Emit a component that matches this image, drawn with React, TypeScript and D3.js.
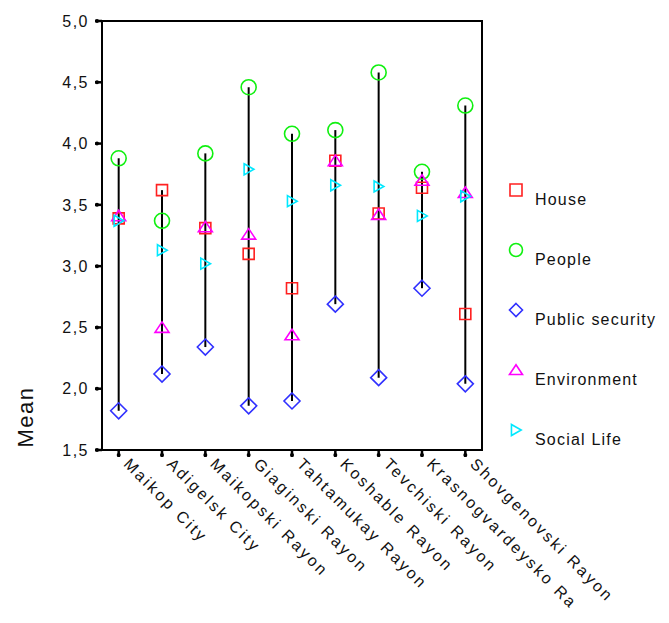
import React from "react";
import * as d3 from "d3";

const categories = [
  "Maikop City",
  "Adigelsk City",
  "Maikopski Rayon",
  "Giaginski Rayon",
  "Tahtamukay Rayon",
  "Koshable Rayon",
  "Tevchiski Rayon",
  "Krasnogvardeysko Ra",
  "Shovgenovski Rayon",
];

const house = [3.39, 3.62, 3.31, 3.1, 2.82, 3.86, 3.43, 3.64, 2.61];
const people = [3.88, 3.37, 3.92, 4.46, 4.08, 4.11, 4.58, 3.77, 4.31];
const publicSecurity = [1.82, 2.12, 2.34, 1.86, 1.9, 2.69, 2.09, 2.82, 2.04];
const environment = [3.41, 2.5, 3.32, 3.26, 2.44, 3.86, 3.42, 3.7, 3.6];
const socialLife = [3.37, 3.13, 3.02, 3.79, 3.53, 3.66, 3.65, 3.41, 3.57];

const yTicks = [1.5, 2.0, 2.5, 3.0, 3.5, 4.0, 4.5, 5.0];

const seriesNames = ["House", "People", "Public security", "Environment", "Social Life"];
const seriesColors = ["#ff2020", "#10f010", "#3030ff", "#ff00ff", "#00e8ff"];
const seriesShapes = ["square", "circle", "diamond", "triUp", "triRight"];
const seriesValues = [house, people, publicSecurity, environment, socialLife];

function markerPath(shape: string, s: number): string {
  const h = s / 2;
  switch (shape) {
    case "square":
      return `M${-h},${-h}H${h}V${h}H${-h}Z`;
    case "circle":
      return `M${h},0A${h},${h} 0 1,1 ${-h},0A${h},${h} 0 1,1 ${h},0Z`;
    case "diamond":
      return `M0,${-h}L${h},0L0,${h}L${-h},0Z`;
    case "triUp":
      return `M0,${-h * 0.8}L${h},${h * 0.7}L${-h},${h * 0.7}Z`;
    case "triRight":
      return `M${-h * 0.7},${-h * 0.85}L${h * 0.8},0L${-h * 0.7},${h * 0.85}Z`;
  }
  return "";
}

const markerSize: Record<string, number> = {
  square: 11,
  circle: 15,
  diamond: 16,
  triUp: 14,
  triRight: 13,
};

export default function App() {
  const W = 669;
  const H = 623;
  const left = 102;
  const right = 482;
  const top = 21;
  const bottom = 450;

  const x = d3.scalePoint<string>().domain(categories).range([left, right]).padding(0.385);
  const y = d3.scaleLinear().domain([1.5, 5.0]).range([bottom, top]);
  const fmt = (v: number) => d3.format(".1f")(v).replace(".", ",");

  const font = "Arial, 'Liberation Sans', sans-serif";

  return (
    <svg
      width={W}
      height={H}
      style={{ position: "absolute", left: 0, top: 0, background: "#fff" }}
      fontFamily={font}
    >
      {categories.map((c, i) => {
        const vals = seriesValues.map((s) => s[i]);
        const hi = d3.max(vals) as number;
        const lo = d3.min(vals) as number;
        return (
          <line
            key={"hl" + c}
            x1={x(c)}
            x2={x(c)}
            y1={y(hi)}
            y2={y(lo)}
            stroke="#000"
            strokeWidth={2}
          />
        );
      })}

      {seriesValues.map((vals, si) =>
        vals.map((v, i) => (
          <path
            key={`m${si}-${i}`}
            d={markerPath(seriesShapes[si], markerSize[seriesShapes[si]])}
            transform={`translate(${x(categories[i])},${y(v)})`}
            fill="none"
            stroke={seriesColors[si]}
            strokeWidth={1.6}
          />
        ))
      )}

      <rect x={left} y={top} width={right - left} height={bottom - top} fill="none" stroke="#000" strokeWidth={2} />

      {yTicks.map((t) => (
        <g key={"yt" + t}>
          <line x1={left - 7} x2={left} y1={y(t)} y2={y(t)} stroke="#000" strokeWidth={2.5} />
          <circle cx={left - 5} cy={y(t)} r={2} fill="#000" />
          <text
            x={89}
            y={y(t)}
            dy="0.36em"
            textAnchor="end"
            fontSize={16}
            letterSpacing={1.5}
            fill="#111"
          >
            {fmt(t)}
          </text>
        </g>
      ))}

      {categories.map((c) => {
        const cx = x(c) as number;
        return (
          <g key={"xt" + c}>
            <line x1={cx} x2={cx} y1={bottom} y2={bottom + 7} stroke="#000" strokeWidth={2.5} />
            <circle cx={cx} cy={bottom + 5} r={2} fill="#000" />
            <text
              transform={`translate(${cx + 4},${bottom + 15}) rotate(45)`}
              fontSize={16}
              letterSpacing={2.5}
              fill="#111"
            >
              {c}
            </text>
          </g>
        );
      })}

      <text
        transform={`translate(33,417) rotate(-90)`}
        textAnchor="middle"
        fontSize={22}
        letterSpacing={1.5}
        fill="#111"
      >
        Mean
      </text>

      {seriesNames.map((n, i) => {
        const baseY = 205 + i * 60;
        return (
          <g key={"lg" + n}>
            <path
              d={markerPath(seriesShapes[i], seriesShapes[i] === "square" ? 12 : 13)}
              transform={`translate(516,${baseY - 15})`}
              fill="none"
              stroke={seriesColors[i]}
              strokeWidth={1.6}
            />
            <text x={535} y={baseY} fontSize={16} letterSpacing={1.2} fill="#111">
              {n}
            </text>
          </g>
        );
      })}
    </svg>
  );
}
